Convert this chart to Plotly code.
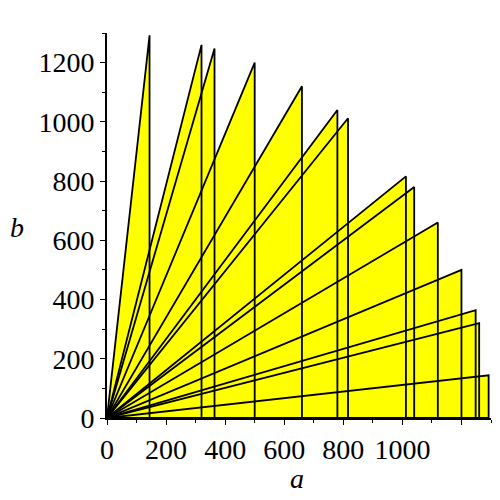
import plotly.graph_objects as go

a_vals = [144, 320, 364, 500, 660, 780, 816, 1012, 1040, 1120, 1200, 1248, 1260, 1292]
b_vals = [1292, 1260, 1248, 1200, 1120, 1040, 1012, 816, 780, 660, 500, 364, 320, 144]
x_ticks = [0, 200, 400, 600, 800, 1000, 1200]
x_labels = ["0", "200", "400", "600", "800", "1000", ""]
y_ticks = [0, 200, 400, 600, 800, 1000, 1200]
y_labels = ["0", "200", "400", "600", "800", "1000", "1200"]

fig = go.Figure()
for a, b in zip(a_vals, b_vals):
    fig.add_trace(go.Scatter(x=[0, a, a, 0], y=[0, b, 0, 0], mode="lines", fill="toself",
                             fillcolor="#ffff00", line=dict(width=0, color="rgba(0,0,0,0)"),
                             hoverinfo="skip", showlegend=False))
for a, b in zip(a_vals, b_vals):
    fig.add_trace(go.Scatter(x=[0, a, a, 0], y=[0, b, 0, 0], mode="lines",
                             line=dict(width=1.8, color="black"),
                             showlegend=False))

font = dict(family="Times New Roman, Liberation Serif, serif", size=28, color="black")
fig.update_layout(
    width=500, height=500,
    margin=dict(l=107, r=9, t=33, b=82),
    paper_bgcolor="white", plot_bgcolor="white",
    xaxis=dict(range=[0, 1300], tickvals=x_ticks, ticktext=x_labels, ticks="outside",
               ticklen=5, tickwidth=1, tickcolor="black",
               minor=dict(dtick=100, tick0=0, ticks="outside", ticklen=3, tickcolor="black"),
               showline=True, linecolor="black", linewidth=1.8, showgrid=False,
               zeroline=False, tickfont=font),
    yaxis=dict(range=[0, 1300], tickvals=y_ticks, ticktext=y_labels, ticks="outside",
               ticklen=5, tickwidth=1, tickcolor="black",
               minor=dict(dtick=100, tick0=0, ticks="outside", ticklen=3, tickcolor="black"),
               showline=True, linecolor="black", linewidth=1.8, showgrid=False,
               zeroline=False, tickfont=font),
    annotations=[
        dict(text="<i>a</i>", x=0.495, y=-0.156, xref="paper", yref="paper",
             showarrow=False, font=font, xanchor="center", yanchor="middle"),
        dict(text="<i>b</i>", x=-0.234, y=0.496, xref="paper", yref="paper",
             showarrow=False, font=font, xanchor="center", yanchor="middle"),
    ],
)
fig.write_html("out.html")
